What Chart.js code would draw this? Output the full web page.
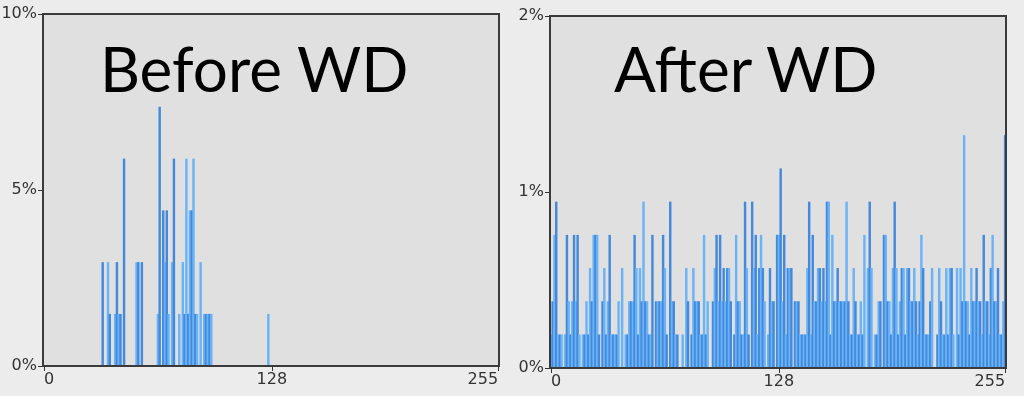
<!DOCTYPE html>
<html>
<head>
<meta charset="utf-8">
<script src="https://cdn.jsdelivr.net/npm/chart.js@4.4.1/dist/chart.umd.min.js"></script>
<style>
  html, body { margin: 0; padding: 0; background: #ececec; }
  #wrap { position: relative; width: 1024px; height: 396px; overflow: hidden; }
  canvas { position: absolute; top: 0; }
  #before-chart { left: 0; }
  #after-chart { left: 508px; }
  .label {
    position: absolute;
    font-family: Lato, "Open Sans", sans-serif;
    font-size: 62px;
    line-height: 62px;
    color: #000;
    white-space: nowrap;
  }
</style>
</head>
<body>
<div id="wrap">
  <canvas id="before-chart" width="508" height="396"></canvas>
  <canvas id="after-chart" width="516" height="396"></canvas>
  <div class="label" style="left: 100px; top: 37px;">Before WD</div>
  <div class="label" style="left: 614px; top: 37px;">After WD</div>
</div>
<script>
// Pixel value histograms (0..255)

// Before WD: sparse histogram, counts out of ~68 pixels
const beforeBins   = [33, 36, 37, 40, 41, 42, 43, 45, 52, 53, 55, 64, 65, 67, 68, 69, 70,
                      72, 73, 76, 78, 79, 80, 81, 82, 83, 84, 85, 86, 88, 90, 91, 92, 93, 94, 126];
const beforeCounts = [2, 2, 1, 1, 2, 1, 1, 4, 2, 2, 2, 1, 5, 3, 2, 3, 1,
                      2, 4, 1, 2, 1, 4, 1, 3, 3, 4, 1, 1, 2, 1, 1, 1, 1, 1, 1];
const beforeTotal = 68;

// After WD: counts per bin, out of ~530 pixels
const afterCounts = [
  1, 2, 4, 5, 1, 1, 1, 0, 1, 4, 2, 1, 2, 4, 2, 4,
  1, 0, 1, 1, 2, 1, 3, 2, 4, 4, 4, 1, 0, 2, 3, 1,
  2, 4, 1, 1, 1, 1, 2, 0, 3, 0, 1, 1, 2, 2, 2, 4,
  3, 1, 3, 2, 5, 2, 2, 1, 1, 4, 0, 2, 2, 2, 2, 4,
  3, 1, 0, 5, 2, 2, 1, 1, 0, 0, 1, 0, 3, 2, 0, 1,
  3, 2, 2, 2, 1, 1, 4, 1, 2, 0, 0, 2, 3, 4, 2, 4,
  2, 3, 2, 3, 3, 2, 0, 1, 4, 2, 2, 1, 1, 5, 3, 1,
  0, 5, 3, 4, 1, 3, 4, 3, 2, 0, 1, 3, 2, 2, 0, 4,
  4, 6, 2, 4, 1, 3, 3, 3, 0, 2, 2, 2, 1, 1, 1, 1,
  3, 5, 1, 4, 2, 2, 3, 3, 2, 3, 2, 5, 5, 1, 4, 2,
  2, 3, 2, 2, 2, 2, 5, 2, 1, 1, 3, 2, 1, 1, 2, 1,
  4, 0, 3, 5, 3, 0, 1, 1, 2, 2, 0, 4, 4, 2, 2, 1,
  3, 5, 3, 1, 2, 3, 3, 1, 3, 3, 2, 2, 3, 2, 1, 2,
  4, 3, 1, 1, 1, 2, 3, 0, 0, 1, 3, 2, 1, 1, 3, 1,
  3, 3, 1, 0, 3, 1, 3, 2, 7, 2, 2, 1, 3, 2, 2, 3,
  2, 2, 1, 4, 2, 2, 1, 3, 4, 2, 2, 3, 1, 1, 2, 7
];
const afterTotal = 530;

// Axis ticks
const xTickValues = [0, 128, 255];
const beforeYMax = 10, beforeYStep = 5;
const afterYMax = 2, afterYStep = 1;

(function() {
    'use strict';

    const labels = [];
    for (let i = 0; i < 256; i++) labels.push(i);

    // Expand sparse bins into a full 256 array
    const beforeFull = new Array(256).fill(0);
    beforeBins.forEach((b, i) => { beforeFull[b] = beforeCounts[i]; });

    const toPct = (counts, total) => counts.map(c => c * 100 / total);

    // Alternate two blues so neighbouring bars read like the original
    const barColors = labels.map(i => (i % 2 === 0 ? '#6ab3f7' : '#4389dc'));

    // Grey plot area, dark frame, and x tick marks only at the labelled values
    const framePlugin = {
        id: 'plotFrame',
        beforeDraw(chart) {
            const a = chart.chartArea;
            const ctx = chart.ctx;
            ctx.save();
            ctx.fillStyle = '#e0e0e0';
            ctx.fillRect(a.left, a.top, a.right - a.left, a.bottom - a.top);
            ctx.restore();
        },
        afterDraw(chart) {
            const a = chart.chartArea;
            const ctx = chart.ctx;
            ctx.save();
            ctx.strokeStyle = '#3a3a3a';
            ctx.lineWidth = 2;
            ctx.strokeRect(a.left, a.top, a.right - a.left, a.bottom - a.top);

            ctx.strokeStyle = '#333';
            ctx.lineWidth = 1;
            ctx.beginPath();
            xTickValues.forEach(v => {
                const x = Math.round(chart.scales.x.getPixelForValue(v)) + 0.5;
                ctx.moveTo(x, a.bottom);
                ctx.lineTo(x, a.bottom + 5);
            });
            ctx.stroke();
            ctx.restore();
        }
    };

    function makeChart(canvas, values, yMax, yStep, padding, xHeight) {
        return new Chart(canvas.getContext('2d'), {
            type: 'bar',
            data: {
                labels: labels,
                datasets: [{
                    data: values,
                    backgroundColor: barColors,
                    borderWidth: 0,
                    barPercentage: 1,
                    categoryPercentage: 1
                }]
            },
            options: {
                responsive: false,
                animation: false,
                layout: { padding: padding },
                plugins: {
                    legend: { display: false },
                    tooltip: { enabled: false }
                },
                scales: {
                    x: {
                        afterFit: (scale) => { scale.height = xHeight; },
                        grid: { display: false },
                        border: { display: false },
                        ticks: {
                            autoSkip: false,
                            maxRotation: 0,
                            align: 'inner',
                            padding: -4,
                            color: '#333',
                            font: { family: 'DejaVu Sans', size: 16 },
                            callback: (v) => (xTickValues.includes(v) ? String(v) : null)
                        }
                    },
                    y: {
                        min: 0,
                        max: yMax,
                        afterFit: (scale) => { scale.width = 42; },
                        grid: {
                            drawOnChartArea: false,
                            drawTicks: true,
                            tickLength: 5,
                            color: '#333'
                        },
                        border: { display: false },
                        ticks: {
                            stepSize: yStep,
                            padding: 1,
                            color: '#333',
                            font: { family: 'DejaVu Sans', size: 16 },
                            callback: (v) => v + '%'
                        }
                    }
                }
            },
            plugins: [framePlugin]
        });
    }

    makeChart(document.getElementById('before-chart'),
        toPct(beforeFull, beforeTotal), beforeYMax, beforeYStep,
        { top: 14, right: 9, bottom: 0, left: 1 }, 30);

    makeChart(document.getElementById('after-chart'),
        toPct(afterCounts, afterTotal), afterYMax, afterYStep,
        { top: 16, right: 18, bottom: 0, left: 0 }, 28);
})();
</script>
</body>
</html>
